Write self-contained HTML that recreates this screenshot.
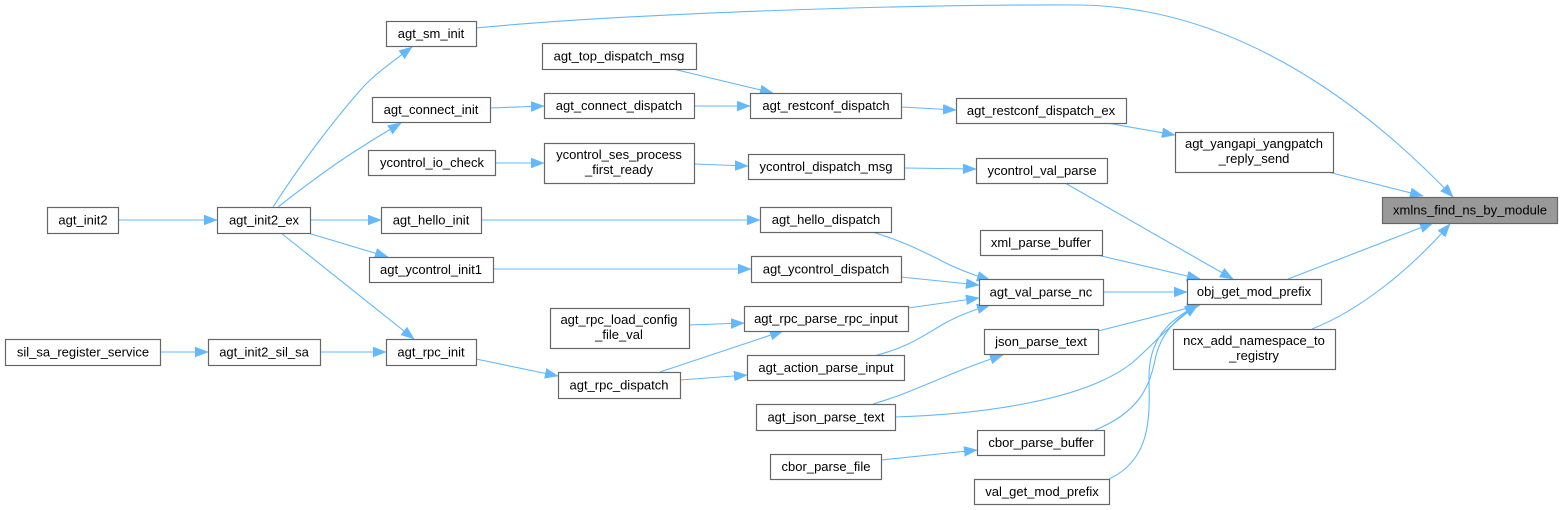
<!DOCTYPE html>
<html><head><meta charset="utf-8"><style>
html,body{margin:0;padding:0;background:#fff;width:1567px;height:510px;overflow:hidden}
svg{display:block}
text{font-family:"Liberation Sans",Arial,sans-serif;font-size:13px;fill:#000}
.n{fill:#fff;stroke:#666;stroke-width:1.2}
.e{fill:none;stroke:#63b8ff;stroke-width:1.1}
</style></head><body>
<svg width="1567" height="510" viewBox="0 0 1567 510" xmlns="http://www.w3.org/2000/svg">
<defs>
<marker id="a" markerUnits="userSpaceOnUse" markerWidth="15" markerHeight="11" refX="13" refY="5" orient="auto">
<path d="M0,0 L13,5 L0,10 z" fill="#63b8ff" stroke="#63b8ff" stroke-width="0.5"/>
</marker>
</defs>
<g marker-end="url(#a)">
<path class="e" d="M118,220 L217,220"/>
<path class="e" d="M273,207 C300,165 335,118 365,85 C378,72 392,62 412,47"/>
<path class="e" d="M278,207 C310,182 340,160 365,145 C375,138 388,131 401,123"/>
<path class="e" d="M310,220 L381,220"/>
<path class="e" d="M308,233 L388,257"/>
<path class="e" d="M281,233 L414,339"/>
<path class="e" d="M160,352 L208,352"/>
<path class="e" d="M320,352 L386,352"/>
<path class="e" d="M476,28 C620,14 900,4 1080,5 C1240,7 1370,110 1453,197"/>
<path class="e" d="M490,108 L544,106"/>
<path class="e" d="M694,106 L750,106"/>
<path class="e" d="M673,69 L773,93"/>
<path class="e" d="M901,107 L956,110"/>
<path class="e" d="M1107,123 L1175,135"/>
<path class="e" d="M1328,172 L1423,196"/>
<path class="e" d="M495,163 L544,163"/>
<path class="e" d="M694,164 L748,166"/>
<path class="e" d="M904,168 L976,169"/>
<path class="e" d="M1065,183 L1233,279"/>
<path class="e" d="M481,220 L760,220"/>
<path class="e" d="M872,232 C900,240 920,250 940,260 C955,268 970,274 990,280"/>
<path class="e" d="M493,269 L751,269"/>
<path class="e" d="M901,277 L979,285"/>
<path class="e" d="M908,308 L979,298"/>
<path class="e" d="M877,355 C905,348 920,338 940,326 C955,317 970,311 990,305"/>
<path class="e" d="M660,372 L783,331"/>
<path class="e" d="M689,325 L744,323"/>
<path class="e" d="M476,359 L558,376"/>
<path class="e" d="M680,380 L747,375"/>
<path class="e" d="M1103,292 L1187,292"/>
<path class="e" d="M1097,255 L1200,279"/>
<path class="e" d="M1098,331 L1200,305"/>
<path class="e" d="M873,404 C915,392 950,372 1003,355"/>
<path class="e" d="M895,417 C985,414 1085,400 1132,363 C1155,343 1172,322 1198,305"/>
<path class="e" d="M1095,430 C1140,412 1150,385 1155,360 C1160,335 1175,318 1198,305"/>
<path class="e" d="M1109,479 C1150,460 1150,420 1149,380 C1148,340 1168,320 1198,305"/>
<path class="e" d="M881,460 L977,450"/>
<path class="e" d="M1288,279 L1433,223"/>
<path class="e" d="M1312,329 C1360,310 1410,270 1450,224"/>
</g>
<g>
<rect class="n" x="386.5" y="21.5" width="90" height="25"/><text x="431" y="38" text-anchor="middle">agt_sm_init</text>
<rect class="n" x="372.5" y="97.5" width="118" height="25"/><text x="431" y="114" text-anchor="middle">agt_connect_init</text>
<rect class="n" x="368.5" y="150.5" width="127" height="25"/><text x="432" y="167" text-anchor="middle">ycontrol_io_check</text>
<rect class="n" x="47.5" y="207.5" width="71" height="26"/><text x="83" y="224.5" text-anchor="middle">agt_init2</text>
<rect class="n" x="217.5" y="207.5" width="93" height="26"/><text x="264" y="224.5" text-anchor="middle">agt_init2_ex</text>
<rect class="n" x="381.5" y="207.5" width="100" height="26"/><text x="431" y="224.5" text-anchor="middle">agt_hello_init</text>
<rect class="n" x="369.5" y="257.5" width="124" height="25"/><text x="431" y="274" text-anchor="middle">agt_ycontrol_init1</text>
<rect class="n" x="5.5" y="339.5" width="155" height="26"/><text x="83" y="356.5" text-anchor="middle">sil_sa_register_service</text>
<rect class="n" x="208.5" y="339.5" width="112" height="26"/><text x="264" y="356.5" text-anchor="middle">agt_init2_sil_sa</text>
<rect class="n" x="386.5" y="339.5" width="90" height="26"/><text x="431" y="356.5" text-anchor="middle">agt_rpc_init</text>
<rect class="n" x="542.5" y="43.5" width="154" height="26"/><text x="619" y="60.5" text-anchor="middle">agt_top_dispatch_msg</text>
<rect class="n" x="544.5" y="93.5" width="150" height="25"/><text x="619" y="110" text-anchor="middle">agt_connect_dispatch</text>
<rect class="n" x="750.5" y="93.5" width="151" height="25"/><text x="826" y="110" text-anchor="middle">agt_restconf_dispatch</text>
<rect class="n" x="956.5" y="98.5" width="170" height="25"/><text x="1041" y="115" text-anchor="middle">agt_restconf_dispatch_ex</text>
<rect class="n" x="544.5" y="143.5" width="150" height="40"/><text x="619" y="159" text-anchor="middle">ycontrol_ses_process</text><text x="619" y="174" text-anchor="middle">_first_ready</text>
<rect class="n" x="748.5" y="154.5" width="156" height="25"/><text x="826" y="171" text-anchor="middle">ycontrol_dispatch_msg</text>
<rect class="n" x="976.5" y="158.5" width="131" height="25"/><text x="1042" y="175" text-anchor="middle">ycontrol_val_parse</text>
<rect class="n" x="760.5" y="207.5" width="131" height="25"/><text x="826" y="224" text-anchor="middle">agt_hello_dispatch</text>
<rect class="n" x="980.5" y="230.5" width="122" height="25"/><text x="1041" y="247" text-anchor="middle">xml_parse_buffer</text>
<rect class="n" x="979.5" y="279.5" width="124" height="26"/><text x="1041" y="296.5" text-anchor="middle">agt_val_parse_nc</text>
<rect class="n" x="984.5" y="329.5" width="114" height="25"/><text x="1041" y="346" text-anchor="middle">json_parse_text</text>
<rect class="n" x="751.5" y="256.5" width="150" height="26"/><text x="826" y="273.5" text-anchor="middle">agt_ycontrol_dispatch</text>
<rect class="n" x="550.5" y="308.5" width="139" height="40"/><text x="619" y="324" text-anchor="middle">agt_rpc_load_config</text><text x="619" y="339" text-anchor="middle">_file_val</text>
<rect class="n" x="744.5" y="306.5" width="164" height="25"/><text x="826" y="323" text-anchor="middle">agt_rpc_parse_rpc_input</text>
<rect class="n" x="747.5" y="355.5" width="157" height="25"/><text x="826" y="372" text-anchor="middle">agt_action_parse_input</text>
<rect class="n" x="558.5" y="372.5" width="122" height="26"/><text x="619" y="389.5" text-anchor="middle">agt_rpc_dispatch</text>
<rect class="n" x="756.5" y="404.5" width="139" height="26"/><text x="826" y="421.5" text-anchor="middle">agt_json_parse_text</text>
<rect class="n" x="770.5" y="454.5" width="111" height="25"/><text x="826" y="471" text-anchor="middle">cbor_parse_file</text>
<rect class="n" x="977.5" y="430.5" width="127" height="25"/><text x="1041" y="447" text-anchor="middle">cbor_parse_buffer</text>
<rect class="n" x="974.5" y="479.5" width="135" height="25"/><text x="1042" y="496" text-anchor="middle">val_get_mod_prefix</text>
<rect class="n" x="1175.5" y="132.5" width="158" height="40"/><text x="1254" y="148" text-anchor="middle">agt_yangapi_yangpatch</text><text x="1254" y="163" text-anchor="middle">_reply_send</text>
<rect x="1382.5" y="197.5" width="175" height="26" fill="#999999" stroke="#666" stroke-width="1.2"/><text x="1470" y="214.5" text-anchor="middle">xmlns_find_ns_by_module</text>
<rect class="n" x="1187.5" y="279.5" width="134" height="25"/><text x="1254" y="296" text-anchor="middle">obj_get_mod_prefix</text>
<rect class="n" x="1173.5" y="329.5" width="162" height="40"/><text x="1254" y="345" text-anchor="middle">ncx_add_namespace_to</text><text x="1254" y="360" text-anchor="middle">_registry</text>
</g>
</svg>
</body></html>
